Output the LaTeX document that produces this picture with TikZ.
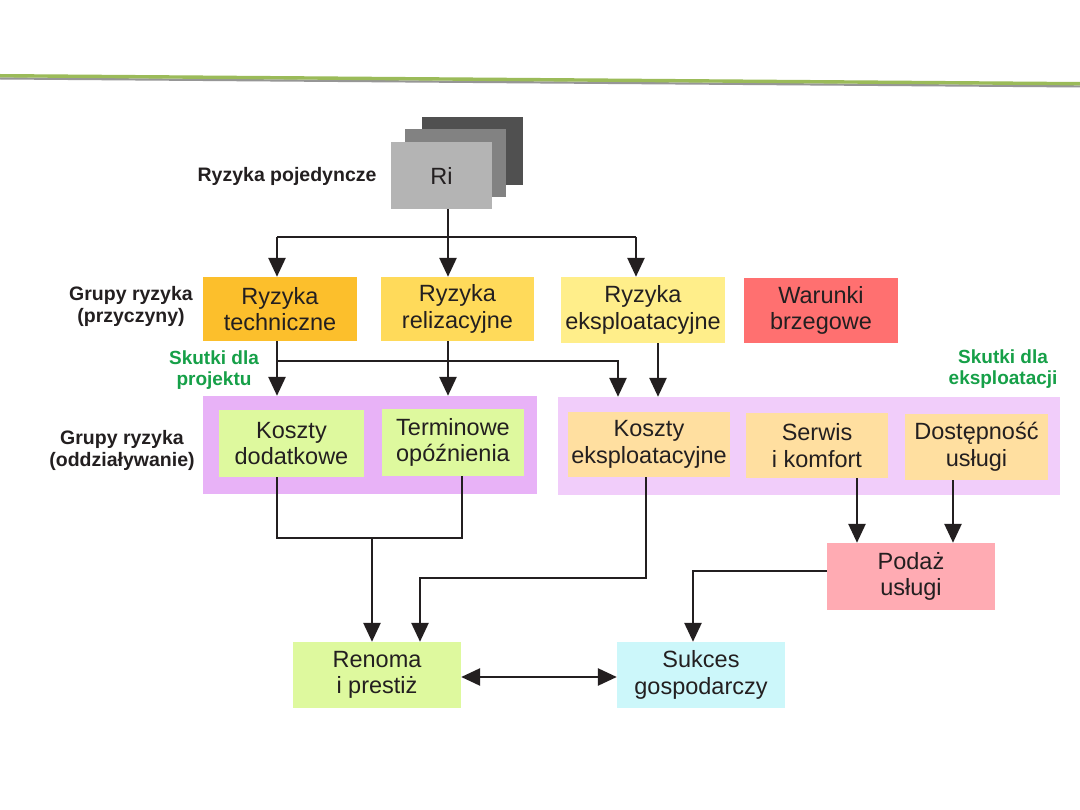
\documentclass[tikz,border=0pt]{standalone}
\usepackage{fontspec}
\setmainfont{Liberation Sans}
\usetikzlibrary{arrows.meta}
\definecolor{txt}{RGB}{35,31,32}
\definecolor{skgreen}{RGB}{22,160,72}
\definecolor{cgreenline}{RGB}{155,187,89}
\definecolor{cgrayline}{RGB}{150,150,150}
\definecolor{cri1}{RGB}{80,80,80}
\definecolor{cri2}{RGB}{130,130,130}
\definecolor{cri3}{RGB}{180,180,180}
\definecolor{ctech}{RGB}{252,191,44}
\definecolor{creal}{RGB}{255,218,90}
\definecolor{ceksp}{RGB}{255,238,138}
\definecolor{cwar}{RGB}{255,112,112}
\definecolor{cprojC}{RGB}{232,178,247}
\definecolor{cekspC}{RGB}{241,205,250}
\definecolor{clgreen}{RGB}{222,249,158}
\definecolor{cpeach}{RGB}{255,223,160}
\definecolor{cpodaz}{RGB}{255,171,179}
\definecolor{csuk}{RGB}{204,247,250}
\newcommand\bxfont{\fontsize{23.5}{26.5}\selectfont}
\newcommand\lbfont{\bfseries\fontsize{19.5}{22}\selectfont}
\newcommand\gbfont{\bfseries\fontsize{19}{21}\selectfont}
\tikzset{
  box/.style={rectangle, inner sep=0pt, align=center, font=\bxfont, text=txt},
  ln/.style={line width=2.7pt, draw=txt},
  arr/.style={ln, -{Triangle[length=19pt,width=17pt]}},
  arrb/.style={ln, {Triangle[length=19pt,width=17pt]}-{Triangle[length=19pt,width=17pt]}},
  lbl/.style={font=\lbfont, align=center, text=txt},
  glbl/.style={font=\gbfont, align=center, text=skgreen}
}
\begin{document}
\begin{tikzpicture}[x=1pt,y=-1pt]
\useasboundingbox[fill=white] (0,0) rectangle (1080,810);
% header rule
\draw[line width=2.2pt, cgrayline] (0,78.4) -- (1080,86.4);
\draw[line width=3.4pt, cgreenline] (0,75.7) -- (1080,83.7);
% Ri stack
\node[box, fill=cri1, minimum width=101pt, minimum height=68pt] (rib3) at (472.5,151) {};
\node[box, fill=cri2, minimum width=101pt, minimum height=68pt] (rib2) at (455.5,163) {};
\node[box, fill=cri3, minimum width=101pt, minimum height=67pt] (ri) at (441.5,175.5) {Ri};
\node[lbl, anchor=east] (lpoj) at (380,176) {Ryzyka pojedyncze};
% causes
\node[lbl] (lprzy) at (131,306) {Grupy ryzyka\\(przyczyny)};
\node[box, fill=ctech, minimum width=154pt, minimum height=64pt] (tech) at (280,309) {Ryzyka\\techniczne};
\node[box, fill=creal, minimum width=153pt, minimum height=64pt] (real) at (457.5,309) {Ryzyka\\relizacyjne};
\node[box, fill=ceksp, minimum width=164pt, minimum height=66pt] (eksp) at (643,310) {Ryzyka\\eksploatacyjne};
\node[box, fill=cwar, minimum width=154pt, minimum height=65pt] (war) at (821,310.5) {Warunki\\brzegowe};
% effect labels
\node[glbl] (lsp) at (214,370) {Skutki dla\\projektu};
\node[glbl, anchor=east] (lse) at (1061,369) {Skutki dla\\eksploatacji};
% containers
\node[box, fill=cprojC, minimum width=334pt, minimum height=98pt] (projC) at (370,445) {};
\node[box, fill=cekspC, minimum width=502pt, minimum height=98pt] (ekspC) at (809,446) {};
\node[lbl] (lodd) at (122,450) {Grupy ryzyka\\(oddziaływanie)};
\node[box, fill=clgreen, minimum width=145pt, minimum height=67pt] (kosd) at (291.5,443.5) {Koszty\\dodatkowe};
\node[box, fill=clgreen, minimum width=142pt, minimum height=67pt] (term) at (453,442.5) {Terminowe\\opóźnienia};
\node[box, fill=cpeach, minimum width=162pt, minimum height=65pt] (kose) at (649,444.5) {Koszty\\eksploatacyjne};
\node[box, fill=cpeach, minimum width=142pt, minimum height=65pt] (serw) at (817,445.5) {Serwis\\i komfort};
\node[box, fill=cpeach, minimum width=143pt, minimum height=66pt] (dost) at (976.5,447) {Dostępność\\usługi};
% outcomes
\node[box, fill=cpodaz, minimum width=168pt, minimum height=67pt] (podaz) at (911,576.5) {Podaż\\usługi};
\node[box, fill=clgreen, minimum width=168pt, minimum height=66pt] (ren) at (377,675) {Renoma\\i prestiż};
\node[box, fill=csuk, minimum width=168pt, minimum height=66pt] (suk) at (701,675) {Sukces\\gospodarczy};
% junction coordinates
\coordinate (bL) at (277,237);
\coordinate (bM) at (448,237);
\coordinate (bR) at (636,237);
\coordinate (sp) at (277,361);
\coordinate (sq) at (618,361);
\coordinate (eA) at (658,361);
\coordinate (kd1) at (277,538);
\coordinate (kd2) at (462,538);
\coordinate (km) at (372,538);
\coordinate (ke1) at (646,578);
\coordinate (ke2) at (420,578);
\coordinate (sv) at (857,510);
\coordinate (dv) at (953,510);
\coordinate (pz) at (693,571);
\coordinate (dbl) at (540,677);
% connectors
\draw[ln] (ri.south -| bM) -- (bM);
\draw[ln] (bL) -- (bR);
\draw[arr] (bL) -- (bL |- tech.north);
\draw[arr] (bM) -- (bM |- real.north);
\draw[arr] (bR) -- (bR |- eksp.north);
\draw[arr] (tech.south -| bL) -- (bL |- projC.north);
\draw[arr] (sp) -- (sq) -- (sq |- ekspC.north);
\draw[arr] (real.south -| bM) -- (bM |- projC.north);
\draw[arr] (eksp.south -| eA) -- (eA |- ekspC.north);
\draw[ln] (kosd.south -| kd1) -- (kd1) -- (kd2) -- (term.south -| kd2);
\draw[arr] (km) -- (km |- ren.north);
\draw[arr] (kose.south -| ke1) -- (ke1) -- (ke2) -- (ke2 |- ren.north);
\draw[arr] (serw.south -| sv) -- (sv |- podaz.north);
\draw[arr] (dost.south -| dv) -- (dv |- podaz.north);
\draw[arr] (podaz.west |- pz) -- (pz) -- (pz |- suk.north);
\draw[arrb] (ren.east |- dbl) -- (suk.west |- dbl);
\end{tikzpicture}
\end{document}
